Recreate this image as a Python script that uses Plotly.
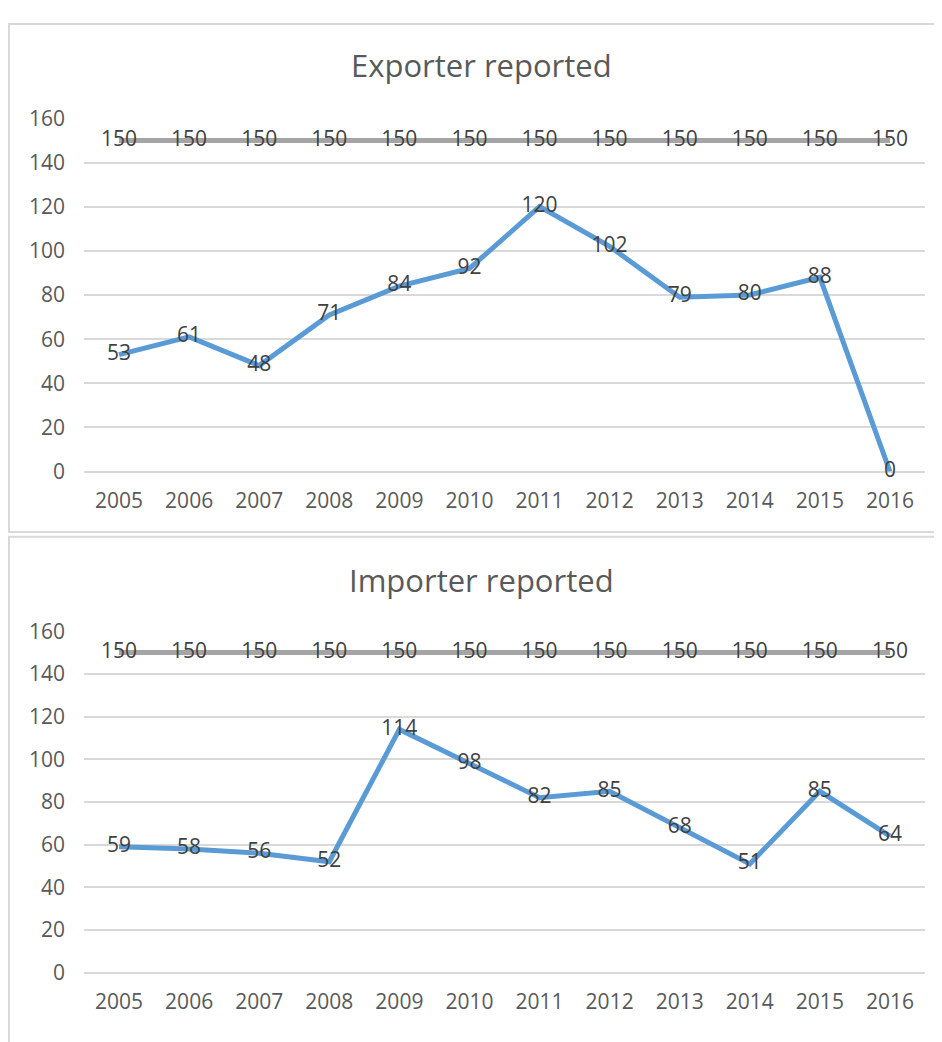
import plotly.graph_objects as go

years = ["2005", "2006", "2007", "2008", "2009", "2010", "2011", "2012", "2013", "2014", "2015", "2016"]
exporter = [53, 61, 48, 71, 84, 92, 120, 102, 79, 80, 88, 0]
importer = [59, 58, 56, 52, 114, 98, 82, 85, 68, 51, 85, 64]
threshold = [150] * 12
titles = ["Exporter reported", "Importer reported"]

W, H = 942, 1042
OFF = 8  # page body margin offset
FONT = "Open Sans"
TXT = "#404040"
TICK = "#595959"
BLUE = "#5b9bd5"
GRAY = "#a5a5a5"
GRID = "#d9d9d9"


def py(px):
    return 1 - (px - OFF) / H


def pxx(px):
    return (px - OFF) / W


fig = go.Figure()

panels = [
    dict(series=exporter, xa="x", ya="y", dom=[py(469), py(106)], title_y=py(51)),
    dict(series=importer, xa="x2", ya="y2", dom=[py(984), py(633)], title_y=py(580)),
]

for i, p in enumerate(panels):
    fig.add_trace(go.Scatter(
        x=years, y=threshold, mode="lines+text", text=[str(v) for v in threshold],
        textposition="middle center", textfont=dict(family=FONT, size=21, color=TXT),
        line=dict(color=GRAY, width=5), xaxis=p["xa"], yaxis=p["ya"],
        showlegend=False, hoverinfo="skip", cliponaxis=False,
    ))
    fig.add_trace(go.Scatter(
        x=years, y=p["series"], mode="lines+text", text=[str(v) for v in p["series"]],
        textposition="middle center", textfont=dict(family=FONT, size=21, color=TXT),
        line=dict(color=BLUE, width=5), xaxis=p["xa"], yaxis=p["ya"],
        showlegend=False, cliponaxis=False,
    ))
    fig.add_annotation(
        text=titles[i], x=pxx(481), y=p["title_y"], xref="paper", yref="paper",
        showarrow=False, xanchor="center", yanchor="middle",
        font=dict(family=FONT, size=31, color=TICK),
    )

axis_common_x = dict(
    type="category", range=[-0.5, 11.5], showgrid=False, zeroline=False,
    showline=False, ticks="", tickfont=dict(family=FONT, size=21, color=TICK),
    ticklabelstandoff=14, domain=[pxx(84), pxx(925)],
)
axis_common_y = dict(
    range=[0, 160], dtick=20, showgrid=True, gridcolor=GRID, gridwidth=2,
    zeroline=True, zerolinecolor=GRID, zerolinewidth=2, showline=False, ticks="",
    tickfont=dict(family=FONT, size=21, color=TICK), ticklabelstandoff=18,
)

fig.update_layout(
    width=W, height=H, margin=dict(l=0, r=0, t=0, b=0),
    paper_bgcolor="white", plot_bgcolor="white",
    xaxis=dict(axis_common_x, anchor="y"),
    yaxis=dict(axis_common_y, domain=panels[0]["dom"], anchor="x"),
    xaxis2=dict(axis_common_x, anchor="y2"),
    yaxis2=dict(axis_common_y, domain=panels[1]["dom"], anchor="x2"),
)

# panel borders
fig.add_shape(type="rect", xref="paper", yref="paper",
              x0=1 / W, x1=1.01, y0=py(531), y1=1 - 1 / H,
              line=dict(color=GRID, width=2), layer="below")
fig.add_shape(type="rect", xref="paper", yref="paper",
              x0=1 / W, x1=1.01, y0=-0.01, y1=py(536),
              line=dict(color=GRID, width=2), layer="below")

fig.write_html("out.html")
